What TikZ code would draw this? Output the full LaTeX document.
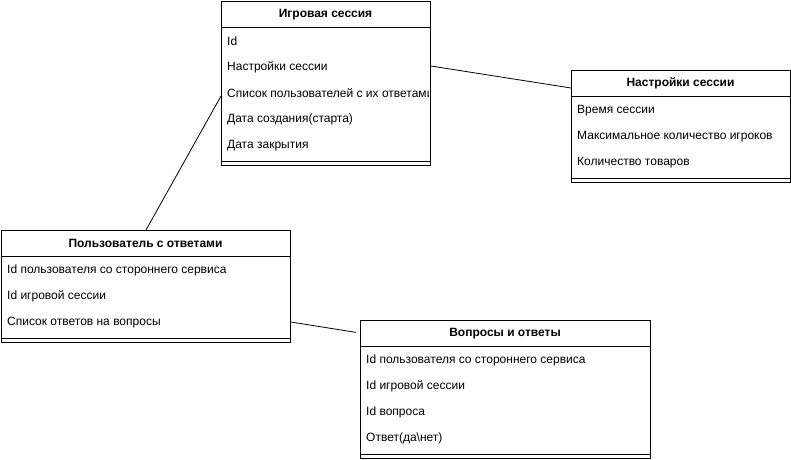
\documentclass[tikz,border=0pt]{standalone}
\usepackage{fontspec}
\setmainfont{Liberation Sans}
\usetikzlibrary{calc}
\tikzset{
  classbox/.style={draw=black, line width=0.9pt, rectangle, inner sep=0pt, anchor=north west},
  classtitle/.style={font=\bfseries\fontsize{12}{14}\selectfont, anchor=center, inner sep=0pt},
  classrow/.style={font=\fontsize{12}{14}\selectfont, anchor=west, inner sep=0pt},
  classline/.style={draw=black, line width=0.9pt},
  link/.style={draw=black, line width=0.8pt},
}
% #1 name, #2 left, #3 top, #4 width, #5 title, #6 number of rows, #7 rows
\newcommand\umlclass[7]{%
  \pgfmathsetmacro\umlh{26+26*#6+8}
  \node[classbox, minimum width=#4pt, minimum height=\umlh pt] (#1) at (#2,#3) {};
  \node[classtitle] (#1-title) at ($(#1.north west)+(#4/2,13.5)$) {#5};
  \draw[classline] ($(#1.north west)+(0,26)$) -- ($(#1.north east)+(0,26)$);
  \begin{scope}
    \clip ($(#1.north west)$) rectangle ($(#1.south east)+(-2,0)$);
    \foreach \r [count=\i] in {#7} {
      \node[classrow] (#1-\i) at ($(#1.north west)+(6,14.5+26*\i)$) {\r};
    }
  \end{scope}
  \draw[classline] ($(#1.south west)+(0,-4)$) -- ($(#1.south east)+(0,-4)$);
}
\begin{document}
\begin{tikzpicture}[x=1pt, y=-1pt]
  \useasboundingbox (0,0) rectangle (791,459);
  \umlclass{g}{221}{1}{209}{Игровая сессия}{5}{{Id},{Настройки сессии},{Список пользователей с их ответами},{Дата создания(старта)},{Дата закрытия}}
  \umlclass{s}{571}{70}{219}{Настройки сессии}{3}{{Время сессии},{Максимальное количество игроков},{Количество товаров}}
  \umlclass{u}{1}{230}{289}{Пользователь с ответами}{3}{{Id пользователя со стороннего сервиса},{Id игровой сессии},{Список ответов на вопросы}}
  \umlclass{q}{360}{320}{290}{Вопросы и ответы}{4}{{Id пользователя со стороннего сервиса},{Id игровой сессии},{Id вопроса},{Ответ(да\textbackslash нет)}}
  \draw[link] ($(g.north east)+(0,65)$) -- ($(s.north west)+(0,18)$);
  \draw[link] ($(g.north west)+(0,95)$) -- ($(u.north west)+(145,0)$);
  \draw[link, shorten >=4pt] ($(u.north east)+(0,92)$) -- ($(q.north west)+(0,13)$);
\end{tikzpicture}
\end{document}
